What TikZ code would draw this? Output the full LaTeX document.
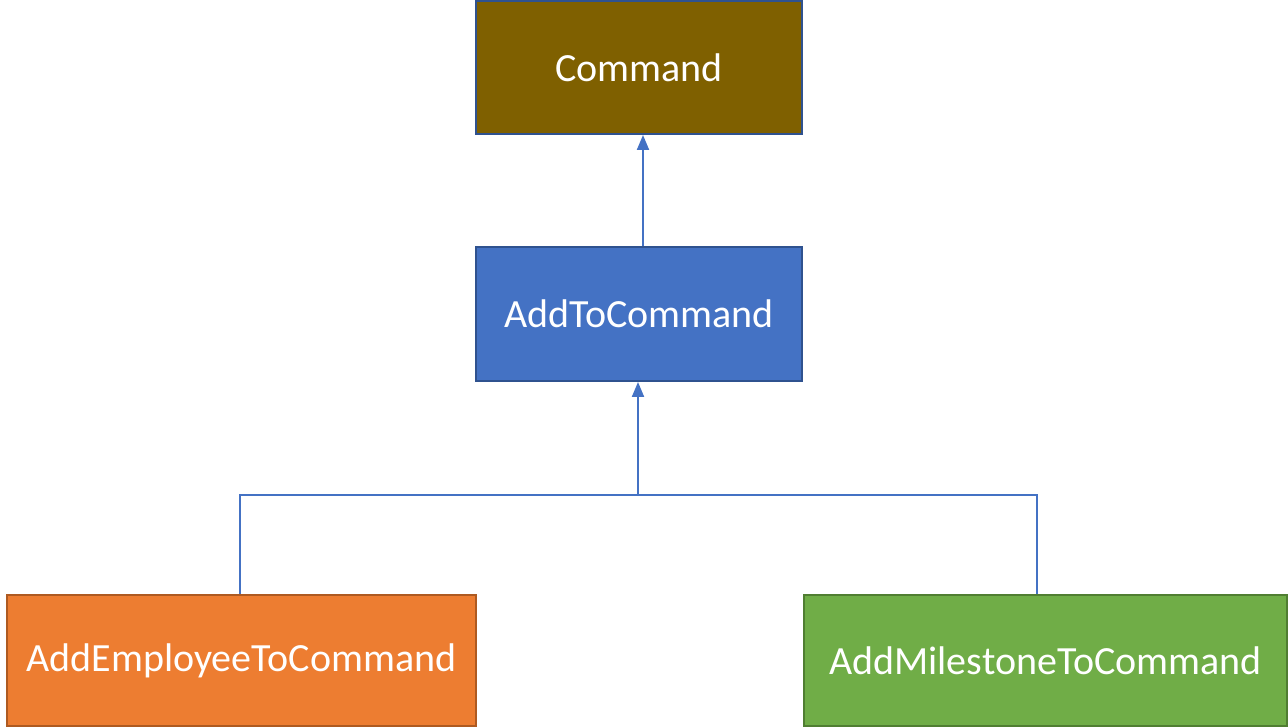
\documentclass[tikz,border=0pt]{standalone}
\usepackage{fontspec}
\setmainfont{Carlito}
\usetikzlibrary{arrows.meta}
\definecolor{cmdfill}{HTML}{7F6000}
\definecolor{bluefill}{HTML}{4472C4}
\definecolor{blueedge}{HTML}{2F528F}
\definecolor{orfill}{HTML}{ED7D31}
\definecolor{oredge}{HTML}{AE5A21}
\definecolor{grfill}{HTML}{70AD47}
\definecolor{gredge}{HTML}{507E32}
\definecolor{linecol}{HTML}{4472C4}
\tikzset{
  box/.style={rectangle, draw, line width=2pt, inner sep=0pt, text=white,
    font=\fontsize{40pt}{47pt}\selectfont},
  conn/.style={draw=linecol, line width=2pt},
  arr/.style={conn, -{Triangle[width=12pt,length=15pt]}},
}
\begin{document}
\begin{tikzpicture}[x=1pt,y=1pt]
\useasboundingbox (0,0) rectangle (1288,727);
\node[box, fill=cmdfill, draw=blueedge, minimum width=326pt, minimum height=133pt] (cmd) at (639,659.5) {Command};
\node[box, fill=bluefill, draw=blueedge, minimum width=326pt, minimum height=134pt] (atc) at (639,413) {AddToCommand};
\node[box, fill=orfill, draw=oredge, minimum width=469pt, minimum height=131pt] (emp) at (241.5,66.5) {AddEmployeeToCommand};
\node[box, fill=grfill, draw=gredge, minimum width=483pt, minimum height=131pt] (mil) at (1045.5,66.5) {AddMilestoneToCommand};
\coordinate (j) at (638,232);
\coordinate (jl) at (240,232);
\coordinate (jr) at (1037,232);
\draw[arr] (atc.north -| 643,0) -- (cmd.south -| 643,0);
\draw[conn] (emp.north -| jl) -- (jl) -- (jr) -- (mil.north -| jr);
\draw[arr] (j) -- (atc.south -| j);
\end{tikzpicture}
\end{document}
